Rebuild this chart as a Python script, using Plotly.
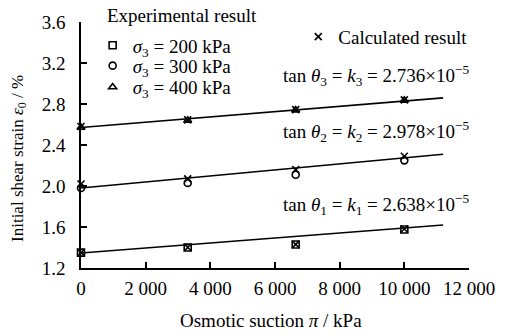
import plotly.graph_objects as go

# Data
pi_kpa = [0, 3300, 6640, 10000]
exp_200 = [1.35, 1.40, 1.43, 1.575]
exp_300 = [1.98, 2.03, 2.11, 2.25]
exp_400 = [2.57, 2.64, 2.74, 2.835]
calc_200 = [1.35, 1.40, 1.43, 1.58]
calc_300 = [2.02, 2.07, 2.16, 2.29]
calc_400 = [2.58, 2.645, 2.745, 2.84]
fit_x = [0, 11200]
fit_200 = [1.347, 1.62]
fit_300 = [1.98, 2.31]
fit_400 = [2.57, 2.86]
x_tickvals = [0, 2000, 4000, 6000, 8000, 10000, 12000]
x_ticktext = ["0", "2 000", "4 000", "6 000", "8 000", "10 000", "12 000"]
y_tickvals = [1.2, 1.6, 2.0, 2.4, 2.8, 3.2, 3.6]
y_ticktext = ["1.2", "1.6", "2.0", "2.4", "2.8", "3.2", "3.6"]
labels = ["<i>σ</i><sub>3</sub> = 200 kPa", "<i>σ</i><sub>3</sub> = 300 kPa", "<i>σ</i><sub>3</sub> = 400 kPa"]
k_texts = ["2.638", "2.978", "2.736"]

FONT = "Liberation Serif, Times New Roman, serif"
FS = 19
fig = go.Figure()

for fy in [fit_200, fit_300, fit_400]:
    fig.add_trace(go.Scatter(x=fit_x, y=fy, mode="lines", line=dict(color="black", width=1.6),
                             showlegend=False, hoverinfo="skip", cliponaxis=False))

symbols = ["square-open", "circle-open", "triangle-up-open"]
legend_ids = ["legend", "legend3", "legend4"]
for ys, sym, lab, lid in zip([exp_200, exp_300, exp_400], symbols, labels, legend_ids):
    fig.add_trace(go.Scatter(x=pi_kpa, y=ys, mode="markers", name=lab,
                             marker=dict(symbol=sym, size=7, color="black", line=dict(color="black", width=1.6)),
                             cliponaxis=False, legend=lid))

for i, ys in enumerate([calc_200, calc_300, calc_400]):
    fig.add_trace(go.Scatter(x=pi_kpa, y=ys, mode="markers", name="Calculated result",
                             marker=dict(symbol="x-thin", size=7, color="black", line=dict(color="black", width=1.6)),
                             cliponaxis=False, legend="legend2", showlegend=(i == 0)))

ann_y = [1.82, 2.53, 3.08]
for i, (yy, kt) in enumerate(zip(ann_y, k_texts)):
    n = i + 1
    fig.add_annotation(x=9110, y=yy, xref="x", yref="y", showarrow=False, xanchor="center", yanchor="middle",
                       text=f"tan <i>θ</i><sub>{n}</sub> = <i>k</i><sub>{n}</sub> = {kt}×10<sup>−5</sup>",
                       font=dict(family=FONT, size=FS, color="black"))

fig.add_annotation(x=0.49, y=-0.215, xref="paper", yref="paper", showarrow=False, yanchor="middle",
                   text="Osmotic suction <i>π</i> / kPa", font=dict(family=FONT, size=FS, color="black"))
fig.add_annotation(x=-0.16, y=0.447, xref="paper", yref="paper", showarrow=False, textangle=-90,
                   xanchor="center",
                   text="Initial shear strain <i>ε</i><sub>0</sub> / %", font=dict(family=FONT, size=17, color="black"))
fig.add_annotation(x=0.062, y=1.027, xref="paper", yref="paper", showarrow=False, xanchor="left", yanchor="middle",
                   text="Experimental result", font=dict(family=FONT, size=FS, color="black"))

leg_common = dict(xanchor="left", yanchor="middle", bgcolor="rgba(0,0,0,0)",
                  font=dict(family=FONT, size=FS), itemwidth=30)

fig.update_layout(
    width=507, height=336,
    margin=dict(l=81, r=28, t=16, b=68),
    paper_bgcolor="white", plot_bgcolor="white",
    font=dict(family=FONT, size=FS, color="black"),
    xaxis=dict(range=[0, 12000], tickvals=x_tickvals, ticktext=x_ticktext, showgrid=False, zeroline=False,
               showline=True, linecolor="black", linewidth=1.6, ticks="inside", ticklen=6, tickwidth=1.6,
               tickcolor="black", tickfont=dict(family=FONT, size=FS), ticklabelstandoff=2),
    yaxis=dict(range=[1.2, 3.6], tickvals=y_tickvals, ticktext=y_ticktext, showgrid=False, zeroline=False,
               showline=True, linecolor="black", linewidth=1.6, ticks="inside", ticklen=6, tickwidth=1.6,
               tickcolor="black", tickfont=dict(family=FONT, size=FS), ticklabelstandoff=10),
    legend=dict(x=0.03, y=0.905, **leg_common),
    legend3=dict(x=0.03, y=0.822, **leg_common),
    legend4=dict(x=0.03, y=0.735, **leg_common),
    legend2=dict(x=0.56, y=0.94, **leg_common),
    showlegend=True,
)

fig.write_html("out.html")
